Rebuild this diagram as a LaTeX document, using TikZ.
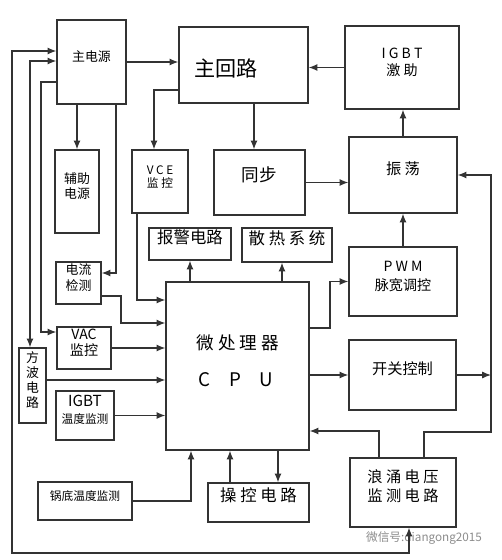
\documentclass[tikz,border=0pt]{standalone}
\usepackage{fontspec}
\setmainfont{Noto Sans CJK SC}
\usetikzlibrary{arrows.meta,fit}
\tikzset{
  blk/.style={draw=black!80, line width=1.1pt, inner sep=0pt, align=center},
  arr/.style={-{Latex[length=7.5pt,width=6pt]}, line width=1.1pt, draw=black!80},
  dbl/.style={{Latex[length=7.5pt,width=6pt]}-{Latex[length=7.5pt,width=6pt]}, line width=1.1pt, draw=black!80}
}
\begin{document}
\begin{tikzpicture}[x=0.03cm, y=-0.03cm]
  \useasboundingbox (0,0) rectangle (501,560);
  % blocks
  \node[blk, fit={(57,20) (126,104)}, font=\fontsize{11}{13}\selectfont] (psu) {主电源};
  \node[blk, fit={(179,27) (308,103)}] (main) {};
  \node[font=\fontsize{18}{20}\selectfont] (maint) at (226,68) {主回路};
  \node[blk, fit={(345,26) (459,109)}, font=\fontsize{12}{15}\selectfont] (drive) {I G B T\\激 助};
  \node[blk, fit={(55,150) (99,233)}, font=\fontsize{11}{13}\selectfont] (aux) {辅助\\电源};
  \node[blk, fit={(132,150) (188,213)}, font=\fontsize{10}{11}\selectfont] (vce) {V C E\\监 控};
  \node[blk, fit={(214,150) (305,215)}, font=\fontsize{15}{17}\selectfont] (sync) {同步};
  \node[blk, fit={(349,137) (457,213)}, font=\fontsize{13}{15}\selectfont] (osc) {振 荡};
  \node[blk, fit={(149,228) (231,260)}, font=\fontsize{14}{16}\selectfont] (alarm) {报警电路};
  \node[blk, fit={(242,228) (332,262)}, font=\fontsize{14}{16}\selectfont] (fan) {散 热 系 统};
  \node[blk, fit={(349,247) (457,316)}, font=\fontsize{12}{16}\selectfont] (pwm) {P W M\\脉宽调控};
  \node[blk, fit={(166,282) (309,450)}] (cpu) {};
  \node[font=\fontsize{15}{17}\selectfont] (cput) at (238,343) {微 处 理 器};
  \node[font=\fontsize{16}{18}\selectfont] (cpuu) at (236,380) {C\quad P\quad U};
  \node[blk, fit={(349,340) (456,410)}, font=\fontsize{13}{15}\selectfont] (switch) {开关控制};
  \node[blk, fit={(56,262) (101,304)}, font=\fontsize{11}{13}\selectfont] (idet) {电流\\检测};
  \node[blk, fit={(57,327) (111,369)}, font=\fontsize{12}{14}\selectfont] (vac) {VAC\\监控};
  \node[blk, fit={(19,348) (46,423)}, font=\fontsize{11}{13}\selectfont] (sq) {方\\波\\电\\路};
  \node[blk, fit={(56,391) (114,440)}, font=\fontsize{13}{15}\selectfont] (igbtT) {IGBT\\{\fontsize{10}{12}\selectfont 温度监测}};
  \node[blk, fit={(38,482) (132,520)}, font=\fontsize{10}{12}\selectfont] (potT) {锅底温度监测};
  \node[blk, fit={(208,483) (309,522)}, font=\fontsize{14}{16}\selectfont] (panel) {操 控 电 路};
  \node[blk, fit={(350,458) (456,527)}, font=\fontsize{13}{16}\selectfont] (surge) {浪 涌 电 压\\监 测 电 路};
  \node[text=black!45, font=\fontsize{10}{12}\selectfont] (wm) at (424,538) {微信号:diangong2015};
  % bend points
  \coordinate (k1) at (116,273);
  \coordinate (k2) at (154,90);
  \coordinate (k3) at (254,0);
  \coordinate (k4) at (330,328);
  \coordinate (k5) at (491,432);
  \coordinate (k6) at (424,432);
  \coordinate (k7) at (379,431);
  \coordinate (k8) at (278,0);
  \coordinate (k9) at (230,0);
  \coordinate (k10) at (191,0);
  \coordinate (k11) at (282,0);
  \coordinate (k12) at (137,300);
  \coordinate (k13) at (121,296);
  \coordinate (k14) at (121,323);
  \coordinate (k15) at (0,380);
  \coordinate (k16) at (12,553);
  \coordinate (k17) at (409,553);
  \coordinate (k18) at (12,51);
  \coordinate (k19) at (30,61);
  \coordinate (k20) at (41,82);
  \coordinate (k21) at (41,332);
  % connectors
  \begin{scope}[arr]
    \draw (psu.east) -- (psu.east -| main.west);
    \draw (drive.west) -- (drive.west -| main.east);
    \draw (aux.north |- psu.south) -- (aux.north);
    \draw (k1 |- psu.south) -- (k1) -- (k1 -| idet.east);
    \draw (k2 -| main.west) -- (k2) -- (k2 |- vce.north);
    \draw (k3 |- main.south) -- (k3 |- sync.north);
    \draw (sync.east) -- (sync.east -| osc.west);
    \draw (osc.north) -- (osc.north |- drive.south);
    \draw (pwm.north) -- (pwm.north |- osc.south);
    \draw (k4 -| cpu.east) -- (k4) |- (pwm.west);
    \draw (switch.west -| cpu.east) -- (switch.west);
    \draw (switch.east) -- (switch.east -| k5);
    \draw (k6 |- surge.north) -- (k6) -- (k5) |- (osc.east);
    \draw (k7 |- surge.north) -- (k7) -- (k7 -| cpu.east);
    \draw (k8 |- cpu.south) -- (k8 |- panel.north);
    \draw (k9 |- panel.north) -- (k9 |- cpu.south);
    \draw (potT.east) -| (k10 |- cpu.south);
    \draw (alarm.south |- cpu.north) -- (alarm.south);
    \draw (k11 |- cpu.north) -- (k11 |- fan.south);
    \draw (k12 |- vce.south) -- (k12) -- (k12 -| cpu.west);
    \draw (k13 -| idet.east) -- (k13) -- (k14) -- (k14 -| cpu.west);
    \draw (vac.east) -- (vac.east -| cpu.west);
    \draw (k15 -| sq.east) -- (k15 -| cpu.west);
    \draw (igbtT.east) -- (igbtT.east -| cpu.west);
    \draw (k20 -| psu.west) -- (k20) -- (k21) -- (k21 -| vac.west);
  \end{scope}
  \begin{scope}[dbl]
    \draw (k18 -| psu.west) -- (k18) -- (k16) -- (k17) -- (k17 |- surge.south);
    \draw (k19 -| psu.west) -- (k19) -- (k19 |- sq.north);
  \end{scope}
\end{tikzpicture}
\end{document}
